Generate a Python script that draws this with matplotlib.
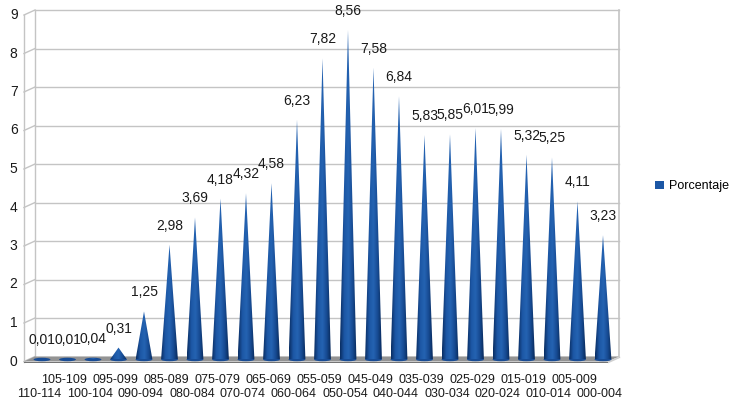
import numpy as np
import matplotlib
matplotlib.use("Agg")
import matplotlib.pyplot as plt
from matplotlib.patches import Polygon, Ellipse, Patch
from matplotlib.colors import LinearSegmentedColormap

# grupos de edad (de mayor a menor) y porcentaje de poblacion
grupos = ["110-114", "105-109", "100-104", "095-099", "090-094", "085-089",
          "080-084", "075-079", "070-074", "065-069", "060-064", "055-059",
          "050-054", "045-049", "040-044", "035-039", "030-034", "025-029",
          "020-024", "015-019", "010-014", "005-009", "000-004"]
porcentaje = [0.01, 0.01, 0.04, 0.31, 1.25, 2.98, 3.69, 4.18, 4.32, 4.58,
              6.23, 7.82, 8.56, 7.58, 6.84, 5.83, 5.85, 6.01, 5.99, 5.32,
              5.25, 4.11, 3.23]
y_ticks = list(range(0, 10))

plt.rcParams['font.family'] = ['Liberation Sans', 'DejaVu Sans']

fig = plt.figure(figsize=(7.31, 4.01), dpi=100)
ax = fig.add_axes([0, 0, 1, 1])
ax.axis('off')

n = len(grupos)
paso = 25.5        # px por categoria
upx = 38.5         # px por unidad
x0 = -42 / paso
x1 = (731 - 42) / paso
y0 = (356.5 - 401) / upx
y1 = 356.5 / upx

# geometria de las paredes (pseudo 3D)
pared_izq = -0.275
pared_der = (619 - 42) / paso
dx = -11 / paso    # desplazamiento hacia el frente
dy = -5 / upx
gris = '#c4c4c4'
texto = '#1a1a1a'

# pared de fondo y lineas de rejilla
for t in y_ticks:
    ax.plot([pared_izq, pared_der], [t, t], color=gris, lw=1, zorder=1)
    ax.plot([pared_izq + dx, pared_izq], [t + dy, t], color=gris, lw=1, zorder=1)
    ax.text(pared_izq + dx - 0.25, t + dy, str(t), ha='right', va='center',
            fontsize=10, color=texto)
ax.plot([pared_izq, pared_izq], [0, y_ticks[-1]], color=gris, lw=1, zorder=1)
ax.plot([pared_der, pared_der], [0, y_ticks[-1]], color=gris, lw=1.2, zorder=1)
ax.plot([pared_izq + dx, pared_izq + dx], [dy, y_ticks[-1] + dy], color=gris, lw=1, zorder=1)

# piso
piso = Polygon([(pared_izq, 0), (pared_der, 0), (pared_der + dx, dy),
                (pared_izq + dx, dy)], closed=True, fc='#939393', ec='none', zorder=2)
ax.add_patch(piso)
borde = Polygon([(pared_izq + dx, dy), (pared_der + dx, dy), (pared_der + dx, dy - 0.05),
                 (pared_izq + dx, dy - 0.05)], closed=True, fc='#747474', ec='none', zorder=2)
ax.add_patch(borde)
lado = Polygon([(pared_der, 0), (pared_der, -0.05), (pared_der + dx, dy - 0.05),
                (pared_der + dx, dy)], closed=True, fc='#d0d0d0', ec='none', zorder=2)
ax.add_patch(lado)

# conos con degradado
cmap = LinearSegmentedColormap.from_list(
    'cono', ['#0a2d62', '#1c57a5', '#2563b2', '#174b93', '#08295a'])
grad = np.linspace(0, 1, 64).reshape(1, -1)
w = 0.33
base = dy * 0.6
for i, v in enumerate(porcentaje):
    el = Ellipse((i, base), 2 * w, 0.09, fc='#184c95', ec='none', zorder=3)
    ax.add_patch(el)
    tri = Polygon([(i - w, base), (i + w, base), (i, v + base)], closed=True,
                  fc='none', ec='none')
    ax.add_patch(tri)
    im = ax.imshow(grad, cmap=cmap, extent=[i - w, i + w, base, v + base],
                   aspect='auto', zorder=4, interpolation='bilinear')
    im.set_clip_path(tri)
    ax.annotate(f"{v:.2f}".replace('.', ','), (i, v), xytext=(0, 6.5),
                textcoords='offset points', ha='center', va='bottom',
                fontsize=10, color=texto, zorder=5)

# etiquetas del eje x en dos filas
for i, g in enumerate(grupos):
    yy = -0.6 if i % 2 else -0.97
    ax.text(i - 0.12, yy, g, ha='center', va='center', fontsize=9, color=texto)

ax.set_xlim(x0, x1)
ax.set_ylim(y0, y1)

ax.legend(handles=[Patch(fc='#1c57a5', ec='none', label='Porcentaje')],
          loc='center left', bbox_to_anchor=(655 / 731, 0.535), frameon=False,
          fontsize=9, handlelength=0.7, handleheight=0.7, handletextpad=0.4,
          borderpad=0, borderaxespad=0)

fig.savefig('out.png', dpi=100)
